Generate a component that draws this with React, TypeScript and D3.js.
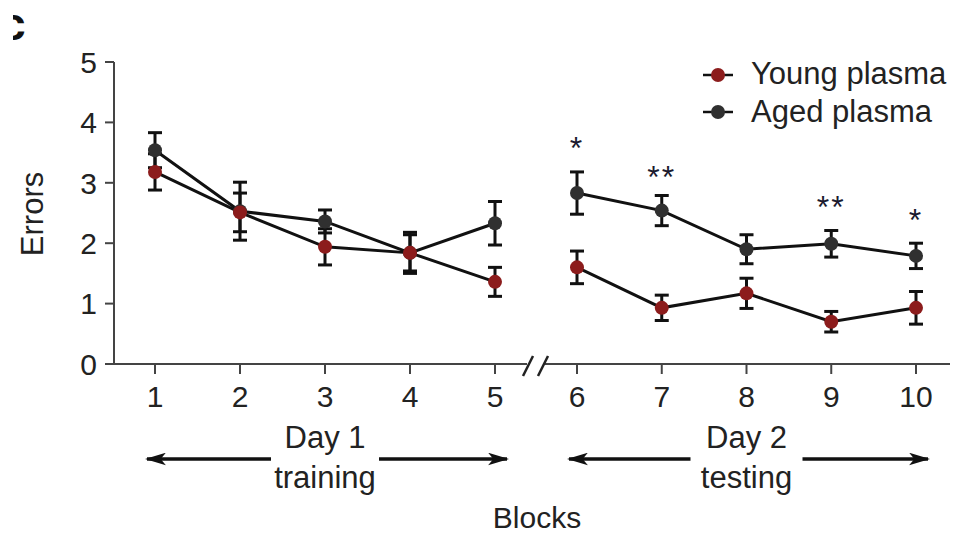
import React, { useEffect } from 'react';
import * as d3 from 'd3';

// blocks 1-5 = day 1 training, 6-10 = day 2 testing
const blocks = [1, 2, 3, 4, 5, 6, 7, 8, 9, 10];
const youngMean = [3.18, 2.51, 1.94, 1.84, 1.36, 1.6, 0.93, 1.17, 0.7, 0.93];
const youngErr = [0.3, 0.32, 0.3, 0.3, 0.24, 0.27, 0.21, 0.25, 0.17, 0.27];
const agedMean = [3.54, 2.53, 2.36, 1.84, 2.33, 2.83, 2.54, 1.9, 1.99, 1.79];
const agedErr = [0.29, 0.48, 0.19, 0.34, 0.36, 0.35, 0.25, 0.24, 0.22, 0.21];
const yTicks = [0, 1, 2, 3, 4, 5];
// significance marks (block, label, height in error units)
const stars = [
  { block: 6, label: '*', level: 3.71 },
  { block: 7, label: '**', level: 3.23 },
  { block: 9, label: '**', level: 2.73 },
  { block: 10, label: '*', level: 2.52 },
];
const days = [
  { from: 1, to: 5, title: 'Day 1', sub: 'training' },
  { from: 6, to: 10, title: 'Day 2', sub: 'testing' },
];

const FONT = '"Liberation Sans", Arial, Helvetica, sans-serif';
const RED = '#8c1c1c';
const DARK = '#303030';

const App = () => {
  useEffect(() => {
    document.body.style.margin = '0';
  }, []);

  const width = 956;
  const height = 536;

  // piecewise scale: a broken axis between block 5 and 6
  const x = d3.scaleLinear().domain([1, 5, 6, 10]).range([155, 495, 577, 916]);
  const y = d3.scaleLinear().domain([0, 5]).range([364, 62]);
  const y0 = y(0);
  const axisX = 114;

  const series = [
    { name: 'Aged plasma', mean: agedMean, err: agedErr, color: DARK },
    { name: 'Young plasma', mean: youngMean, err: youngErr, color: RED },
  ];

  const segPath = (mean: number[], from: number, to: number) => {
    const idx = blocks.map((b, i) => i).filter((i) => blocks[i] >= from && blocks[i] <= to);
    return d3
      .line<number>()
      .x((i) => x(blocks[i]))
      .y((i) => y(mean[i]))(idx) as string;
  };

  const capW = 7;
  const breakL = 527;
  const breakR = 545;

  return (
    <svg width={width} height={height} style={{ display: 'block', fontFamily: FONT }}>
      <rect width={width} height={height} fill="#fff" />
      <defs>
        <marker id="ah" viewBox="0 0 20 12" refX="18" refY="6" markerWidth="21" markerHeight="13"
          markerUnits="userSpaceOnUse" orient="auto-start-reverse">
          <path d="M0,0 L20,6 L0,12 L5,6 Z" fill="#111" />
        </marker>
        <clipPath id="panelClip">
          <rect x={13} y={0} width={40} height={60} />
        </clipPath>
      </defs>

      {/* panel letter, cropped in the source figure */}
      <g clipPath="url(#panelClip)">
        <text x={0} y={40} fontSize={46} fontWeight="bold" fill="#111">c</text>
      </g>

      {/* y axis */}
      <line x1={axisX} x2={axisX} y1={y(5)} y2={y0} stroke="#444" strokeWidth={2} />
      {yTicks.map((t) => (
        <g key={t}>
          <line x1={axisX - 9} x2={axisX} y1={y(t)} y2={y(t)} stroke="#444" strokeWidth={2} />
          <text x={97} y={y(t)} dy="0.36em" textAnchor="end" fontSize={30} fill="#222">{t}</text>
        </g>
      ))}
      <text transform={`translate(43,${y(2.5) + 1}) rotate(-90)`} textAnchor="middle" fontSize={31} fill="#222">
        Errors
      </text>

      {/* x axis with break */}
      <line x1={axisX} x2={breakL} y1={y0} y2={y0} stroke="#444" strokeWidth={2} />
      <line x1={breakR} x2={950} y1={y0} y2={y0} stroke="#444" strokeWidth={2} />
      <line x1={523} x2={533} y1={y0 + 12} y2={y0 - 8} stroke="#222" strokeWidth={2.5} />
      <line x1={538} x2={548} y1={y0 + 12} y2={y0 - 8} stroke="#222" strokeWidth={2.5} />
      {blocks.map((b) => (
        <g key={b}>
          <line x1={x(b)} x2={x(b)} y1={y0} y2={y0 + 10} stroke="#444" strokeWidth={2} />
          <text x={x(b)} y={407} textAnchor="middle" fontSize={30} fill="#222">{b}</text>
        </g>
      ))}

      {/* day annotations */}
      {days.map((d) => {
        const cx = (x(d.from) + x(d.to)) / 2;
        const half = d.from === 1 ? 54 : 56;
        return (
          <g key={d.title}>
            <text x={cx} y={448} textAnchor="middle" fontSize={31} fill="#222">{d.title}</text>
            <text x={cx} y={488} textAnchor="middle" fontSize={31} fill="#222">{d.sub}</text>
            <line x1={cx - half} x2={x(d.from) - 8} y1={459} y2={459} stroke="#111" strokeWidth={3.5}
              markerEnd="url(#ah)" />
            <line x1={cx + half} x2={x(d.to) + 12} y1={459} y2={459} stroke="#111" strokeWidth={3.5}
              markerEnd="url(#ah)" />
          </g>
        );
      })}
      <text x={537} y={528} textAnchor="middle" fontSize={30} fill="#222">Blocks</text>

      {/* series */}
      {series.map((s) => (
        <g key={s.name}>
          {days.map((d) => (
            <path key={d.title} d={segPath(s.mean, d.from, d.to)} fill="none" stroke="#111" strokeWidth={3} />
          ))}
          {blocks.map((b, i) => {
            const top = y(s.mean[i] + s.err[i]);
            const bot = y(s.mean[i] - s.err[i]);
            return (
              <g key={b} stroke="#111" strokeWidth={3}>
                <line x1={x(b)} x2={x(b)} y1={top} y2={bot} />
                <line x1={x(b) - capW} x2={x(b) + capW} y1={top} y2={top} />
                <line x1={x(b) - capW} x2={x(b) + capW} y1={bot} y2={bot} />
              </g>
            );
          })}
        </g>
      ))}
      {series.map((s) => (
        <g key={s.name + 'pts'}>
          {blocks.map((b, i) => (
            <circle key={b} cx={x(b)} cy={y(s.mean[i])} r={7} fill={s.color} />
          ))}
        </g>
      ))}

      {/* significance */}
      {stars.map((st) => (
        <text key={st.block} x={x(st.block)} y={y(st.level)} dy="0.6em" textAnchor="middle" fontSize={32}
          fill="#1a1a2e" letterSpacing={2}>
          {st.label}
        </text>
      ))}

      {/* legend */}
      {[
        { name: 'Young plasma', color: RED, ly: 75, ty: 84 },
        { name: 'Aged plasma', color: DARK, ly: 112, ty: 122 },
      ].map((l) => (
        <g key={l.name}>
          <line x1={703} x2={733} y1={l.ly} y2={l.ly} stroke="#111" strokeWidth={2.5} />
          <circle cx={718} cy={l.ly} r={7} fill={l.color} />
          <text x={751} y={l.ty} fontSize={31} fill="#222">{l.name}</text>
        </g>
      ))}
    </svg>
  );
};

export default App;
